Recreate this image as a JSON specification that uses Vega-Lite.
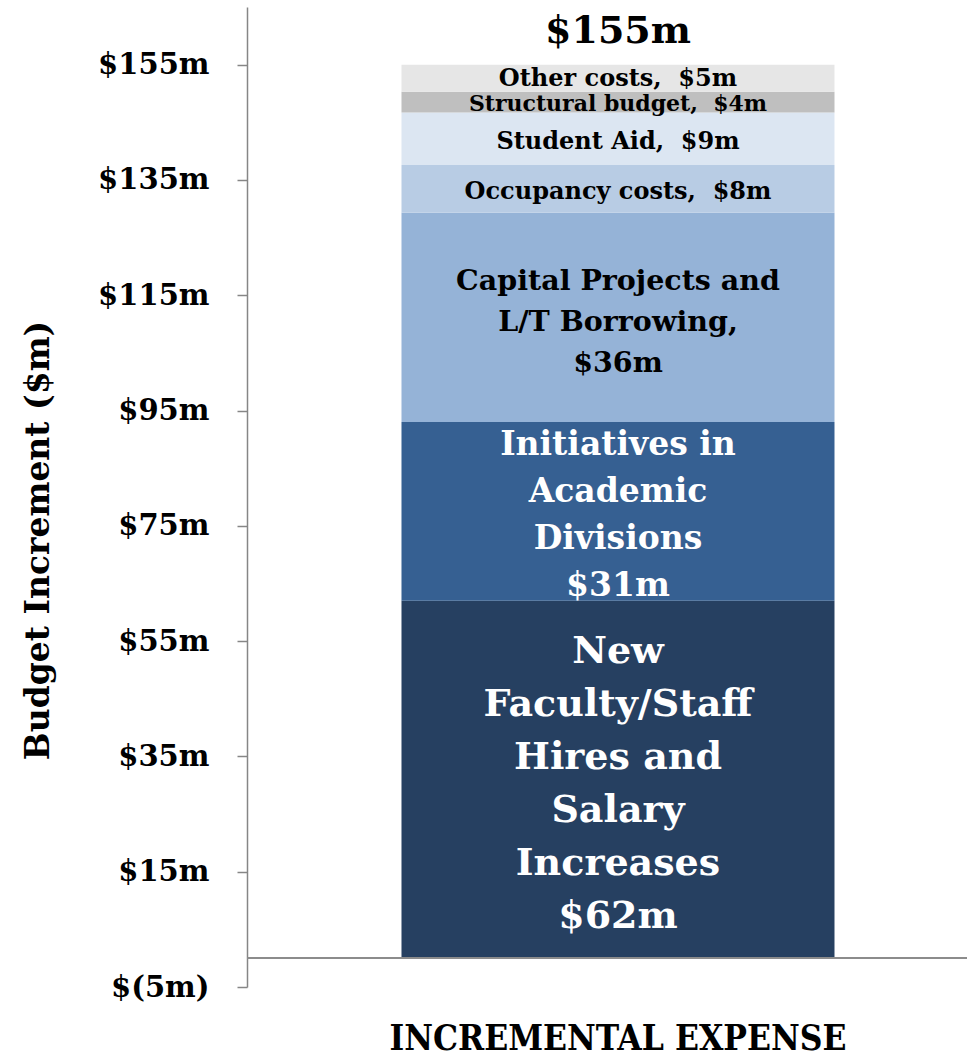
{
  "$schema": "https://vega.github.io/schema/vega-lite/v6.json",
  "width": 720,
  "height": 980,
  "autosize": {"type": "none"},
  "padding": {"left": 247, "top": 7, "right": 0, "bottom": 69},
  "background": "white",
  "config": {"view": {"stroke": null}, "font": "DejaVu Serif", "axis": {"grid": false}},
  "datasets": {
    "segments": [
      {"x": "INCREMENTAL EXPENSE", "ord": 1, "category": "New Faculty/Staff Hires and Salary Increases", "value": 62, "label": "New\nFaculty/Staff\nHires and\nSalary\nIncreases\n$62m"},
      {"x": "INCREMENTAL EXPENSE", "ord": 2, "category": "Initiatives in Academic Divisions", "value": 31, "label": "Initiatives in\nAcademic\nDivisions\n$31m"},
      {"x": "INCREMENTAL EXPENSE", "ord": 3, "category": "Capital Projects and L/T Borrowing", "value": 36.3, "label": "Capital Projects and\nL/T Borrowing,\n$36m"},
      {"x": "INCREMENTAL EXPENSE", "ord": 4, "category": "Occupancy costs", "value": 8.3, "label": "Occupancy costs,\u00a0 $8m"},
      {"x": "INCREMENTAL EXPENSE", "ord": 5, "category": "Student Aid", "value": 9.1, "label": "Student Aid,\u00a0 $9m"},
      {"x": "INCREMENTAL EXPENSE", "ord": 6, "category": "Structural budget", "value": 3.6, "label": "Structural budget,\u00a0 $4m"},
      {"x": "INCREMENTAL EXPENSE", "ord": 7, "category": "Other costs", "value": 4.7, "label": "Other costs,\u00a0 $5m"}
    ],
    "total": [
      {"x": "INCREMENTAL EXPENSE", "value": 155, "label": "$155m"}
    ]
  },
  "data": {"name": "segments"},
  "layer": [
    {
      "mark": {"type": "bar"},
      "encoding": {
        "x": {"field": "x", "type": "nominal", "title": null,
          "scale": {"paddingInner": 0, "paddingOuter": 0.3314, "align": 0.5383},
          "axis": {"title": null, "domain": false, "ticks": false, "labelAngle": 0, "labelFont": "DejaVu Serif Condensed", "labelFontWeight": "bold", "labelFontSize": 35, "labelColor": "#000000", "labelPadding": 34, "labelLimit": 900}},
        "y": {"field": "value", "type": "quantitative", "stack": "zero",
          "scale": {"domain": [-5, 165], "nice": false, "zero": false},
          "axis": {"title": "Budget Increment ($m)", "values": [-5, 15, 35, 55, 75, 95, 115, 135, 155],
            "labelExpr": "datum.value < 0 ? '$(' + (-datum.value) + 'm)' : '$' + datum.value + 'm'",
            "labelFontSize": 29, "labelFontWeight": "bold", "labelColor": "#000000", "labelPadding": 28,
            "tickSize": 10, "tickColor": "#868686", "tickWidth": 1.5, "domainColor": "#868686", "domainWidth": 1.5,
            "titleFontSize": 33, "titleFontWeight": "bold", "titleColor": "#000000",
            "titleX": -209, "titleY": 533, "titleBaseline": "middle", "titleAngle": -90, "titleAlign": "center",
            "labelOverlap": false, "labelFlush": false}},
        "color": {"field": "category", "type": "nominal", "legend": null,
          "scale": {"domain": ["New Faculty/Staff Hires and Salary Increases", "Initiatives in Academic Divisions", "Capital Projects and L/T Borrowing", "Occupancy costs", "Student Aid", "Structural budget", "Other costs"],
            "range": ["#264061", "#366092", "#95B3D7", "#B8CCE4", "#DCE6F2", "#BFBFBF", "#E6E6E6"]}},
        "order": {"field": "ord", "type": "quantitative"}
      }
    },
    {
      "mark": {"type": "rule", "color": "#8C8C8C", "strokeWidth": 1.5},
      "encoding": {"y": {"datum": 0, "type": "quantitative"}}
    },
    {
      "mark": {"type": "text", "font": "DejaVu Serif", "fontWeight": "bold", "fontSize": 38, "lineHeight": 53, "color": "#FFFFFF", "baseline": "middle", "lineBreak": "\n", "dy": -127},
      "encoding": {
        "x": {"field": "x", "type": "nominal", "title": null},
        "y": {"field": "value", "type": "quantitative", "stack": "zero", "bandPosition": 0.5},
        "order": {"field": "ord", "type": "quantitative"},
        "text": {"condition": {"test": "datum.ord === 1", "field": "label"}, "value": ""}
      }
    },
    {
      "mark": {"type": "text", "font": "DejaVu Serif", "fontWeight": "bold", "fontSize": 33, "lineHeight": 47, "color": "#FFFFFF", "baseline": "middle", "lineBreak": "\n", "dy": -66},
      "encoding": {
        "x": {"field": "x", "type": "nominal", "title": null},
        "y": {"field": "value", "type": "quantitative", "stack": "zero", "bandPosition": 0.5},
        "order": {"field": "ord", "type": "quantitative"},
        "text": {"condition": {"test": "datum.ord === 2", "field": "label"}, "value": ""}
      }
    },
    {
      "mark": {"type": "text", "font": "DejaVu Serif", "fontWeight": "bold", "fontSize": 28.5, "lineHeight": 41, "color": "#000000", "baseline": "middle", "lineBreak": "\n", "dy": -36},
      "encoding": {
        "x": {"field": "x", "type": "nominal", "title": null},
        "y": {"field": "value", "type": "quantitative", "stack": "zero", "bandPosition": 0.5},
        "order": {"field": "ord", "type": "quantitative"},
        "text": {"condition": {"test": "datum.ord === 3", "field": "label"}, "value": ""}
      }
    },
    {
      "mark": {"type": "text", "font": "DejaVu Serif", "fontWeight": "bold", "fontSize": 24, "color": "#000000", "baseline": "middle", "dy": 3},
      "encoding": {
        "x": {"field": "x", "type": "nominal", "title": null},
        "y": {"field": "value", "type": "quantitative", "stack": "zero", "bandPosition": 0.5},
        "order": {"field": "ord", "type": "quantitative"},
        "text": {"condition": {"test": "datum.ord === 4 || datum.ord === 5", "field": "label"}, "value": ""}
      }
    },
    {
      "mark": {"type": "text", "font": "DejaVu Serif", "fontWeight": "bold", "fontSize": 24, "color": "#000000", "baseline": "middle", "dy": 1},
      "encoding": {
        "x": {"field": "x", "type": "nominal", "title": null},
        "y": {"field": "value", "type": "quantitative", "stack": "zero", "bandPosition": 0.5},
        "order": {"field": "ord", "type": "quantitative"},
        "text": {"condition": {"test": "datum.ord === 7", "field": "label"}, "value": ""}
      }
    },
    {
      "mark": {"type": "text", "font": "DejaVu Serif", "fontWeight": "bold", "fontSize": 22, "color": "#000000", "baseline": "middle", "dy": 2},
      "encoding": {
        "x": {"field": "x", "type": "nominal", "title": null},
        "y": {"field": "value", "type": "quantitative", "stack": "zero", "bandPosition": 0.5},
        "order": {"field": "ord", "type": "quantitative"},
        "text": {"condition": {"test": "datum.ord === 6", "field": "label"}, "value": ""}
      }
    },
    {
      "data": {"name": "total"},
      "mark": {"type": "text", "font": "DejaVu Serif", "fontWeight": "bold", "fontSize": 38, "color": "#000000", "baseline": "middle", "dy": -33},
      "encoding": {
        "x": {"field": "x", "type": "nominal", "title": null},
        "y": {"field": "value", "type": "quantitative"},
        "text": {"field": "label"}
      }
    }
  ]
}
